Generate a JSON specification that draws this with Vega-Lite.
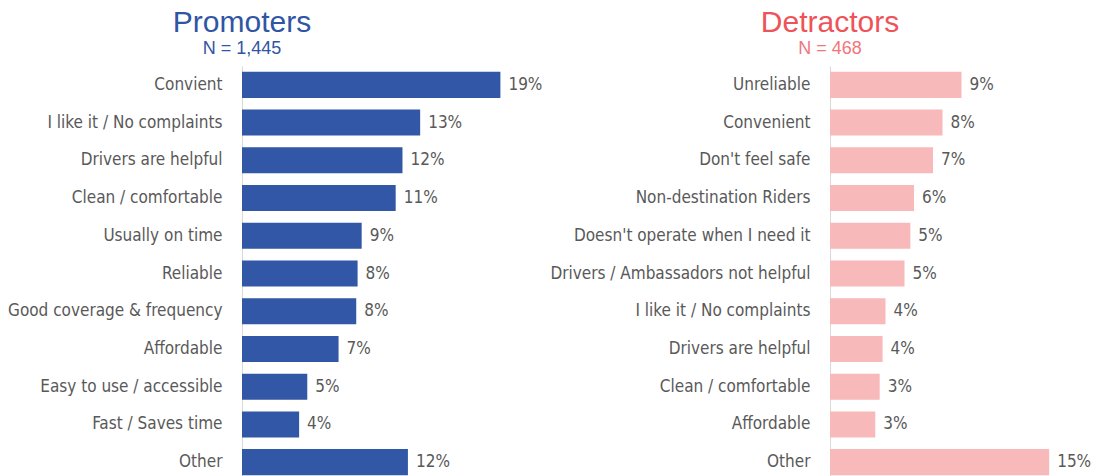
{
  "$schema": "https://vega.github.io/schema/vega-lite/v6.json",
  "autosize": {"type": "none"},
  "padding": {"left": 242, "top": 66, "right": 854, "bottom": 410},
  "background": "white",
  "config": {
    "view": {"stroke": null},
    "font": "Liberation Sans",
    "axis": {"labelFont": "DejaVu Sans Condensed, Roboto", "labelFontSize": 17, "labelColor": "#595959"},
    "text": {"font": "DejaVu Sans Condensed, Roboto", "fontSize": 17, "color": "#595959"}
  },
  "datasets": {
    "promoters": [
      {"reason": "Convient", "value": 19.0, "label": "19%"},
      {"reason": "I like it / No complaints", "value": 13.1, "label": "13%"},
      {"reason": "Drivers are helpful", "value": 11.8, "label": "12%"},
      {"reason": "Clean / comfortable", "value": 11.3, "label": "11%"},
      {"reason": "Usually on time", "value": 8.8, "label": "9%"},
      {"reason": "Reliable", "value": 8.5, "label": "8%"},
      {"reason": "Good coverage & frequency", "value": 8.4, "label": "8%"},
      {"reason": "Affordable", "value": 7.1, "label": "7%"},
      {"reason": "Easy to use / accessible", "value": 4.8, "label": "5%"},
      {"reason": "Fast / Saves time", "value": 4.2, "label": "4%"},
      {"reason": "Other", "value": 12.2, "label": "12%"}
    ],
    "detractors": [
      {"reason": "Unreliable", "value": 9.0, "label": "9%"},
      {"reason": "Convenient", "value": 7.7, "label": "8%"},
      {"reason": "Don't feel safe", "value": 7.05, "label": "7%"},
      {"reason": "Non-destination Riders", "value": 5.75, "label": "6%"},
      {"reason": "Doesn't operate when I need it", "value": 5.5, "label": "5%"},
      {"reason": "Drivers / Ambassadors not helpful", "value": 5.1, "label": "5%"},
      {"reason": "I like it / No complaints", "value": 3.8, "label": "4%"},
      {"reason": "Drivers are helpful", "value": 3.6, "label": "4%"},
      {"reason": "Clean / comfortable", "value": 3.4, "label": "3%"},
      {"reason": "Affordable", "value": 3.1, "label": "3%"},
      {"reason": "Other", "value": 15.0, "label": "15%"}
    ]
  },
  "hconcat": [
    {
      "data": {"name": "promoters"},
      "width": 272,
      "height": 415,
      "title": {
        "text": "Promoters",
        "subtitle": "N = 1,445",
        "anchor": "start",
        "align": "center",
        "frame": "group",
        "fontSize": 30,
        "fontWeight": "normal",
        "color": "#2F55A4",
        "subtitleFontSize": 18,
        "subtitleColor": "#2F55A4",
        "subtitlePadding": 2,
        "offset": 8
      },
      "encoding": {
        "y": {
          "field": "reason", "type": "nominal", "sort": null, "title": null,
          "scale": {"paddingInner": 0.31, "paddingOuter": 0.155},
          "axis": {"ticks": false, "domainColor": "#D9D9D9", "labelPadding": 20, "labelLimit": 400}
        },
        "x": {"field": "value", "type": "quantitative", "scale": {"domain": [0, 20]}, "axis": null}
      },
      "layer": [
        {"mark": {"type": "bar", "color": "#3157A6"}},
        {"mark": {"type": "text", "align": "left", "baseline": "middle", "dx": 8}, "encoding": {"text": {"field": "label"}}}
      ]
    },
    {
      "data": {"name": "detractors"},
      "width": 263,
      "height": 415,
      "title": {
        "text": "Detractors",
        "subtitle": "N = 468",
        "anchor": "start",
        "align": "center",
        "frame": "group",
        "fontSize": 30,
        "fontWeight": "normal",
        "color": "#EE5359",
        "subtitleFontSize": 18,
        "subtitleColor": "#F2767B",
        "subtitlePadding": 2,
        "offset": 8
      },
      "encoding": {
        "y": {
          "field": "reason", "type": "nominal", "sort": null, "title": null,
          "scale": {"paddingInner": 0.31, "paddingOuter": 0.155},
          "axis": {"ticks": false, "domainColor": "#D9D9D9", "labelPadding": 20, "labelLimit": 400}
        },
        "x": {"field": "value", "type": "quantitative", "scale": {"domain": [0, 18]}, "axis": null}
      },
      "layer": [
        {"mark": {"type": "bar", "color": "#F7B9BA"}},
        {"mark": {"type": "text", "align": "left", "baseline": "middle", "dx": 8}, "encoding": {"text": {"field": "label"}}}
      ]
    }
  ],
  "spacing": 316,
  "bounds": "flush"
}
